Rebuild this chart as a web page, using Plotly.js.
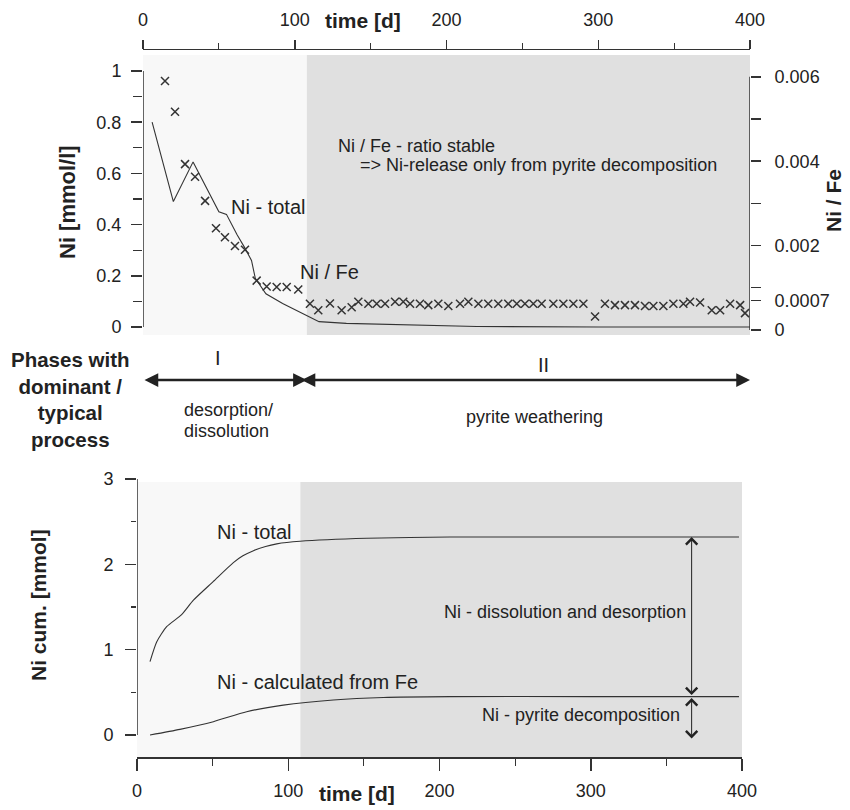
<!DOCTYPE html>
<html>
<head>
<meta charset="utf-8">
<script src="https://cdn.plot.ly/plotly-3.0.1.min.js"></script>
<style>
  html, body { margin: 0; padding: 0; background: #ffffff; }
  #chart { width: 850px; height: 810px; }
</style>
</head>
<body>
<div id="chart"></div>
<script>
// ---------------- data ----------------
// Top panel: Ni concentration in leachate [mmol/l] (left axis)
const niTotalDays = [6, 20, 33, 44, 50, 55, 62, 67, 71.5, 74, 81, 92, 105, 116, 134, 170, 220, 300, 400];
const niTotalConc = [0.80, 0.49, 0.645, 0.52, 0.45, 0.44, 0.36, 0.31, 0.26, 0.19, 0.13, 0.092, 0.053, 0.021, 0.014, 0.008, 0.002, 0.0, 0.0];

// Top panel: Ni / Fe ratio (right axis), crosses
const niFeDays = [14.5, 21.1, 27.7, 34.3, 40.9, 48.1, 54.0, 60.6, 67.2, 74.9, 81.5, 88.1, 94.7, 102.3,
  110.0, 115.5, 123.2, 130.9, 137.5, 141.9, 148.5, 154.0, 159.5, 166.1, 171.5, 176.0, 182.5, 188.0,
  194.6, 201.2, 208.9, 214.4, 221.0, 227.5, 234.1, 240.7, 246.3, 251.7, 257.2, 262.7, 270.4, 277.0,
  283.6, 290.2, 297.9, 304.4, 311.0, 317.6, 324.2, 330.8, 336.3, 342.9, 349.5, 356.1, 360.5, 367.1,
  374.8, 380.3, 386.9, 393.5, 396.7];
const niFeRatio = [0.0059, 0.00517, 0.00393, 0.00363, 0.00306, 0.00241, 0.0022, 0.00199, 0.0019, 0.00117, 0.00103, 0.00102, 0.00102, 0.00096,
  0.00062, 0.00047, 0.00063, 0.00047, 0.00054, 0.00067, 0.00062, 0.00062, 0.00062, 0.00067, 0.00067, 0.00062, 0.00062, 0.00059,
  0.00062, 0.00057, 0.00062, 0.00067, 0.00062, 0.00062, 0.00062, 0.00062, 0.00062, 0.00062, 0.00062, 0.00062, 0.00062, 0.00062,
  0.00062, 0.00062, 0.00032, 0.00062, 0.00059, 0.00059, 0.00059, 0.00057, 0.00057, 0.00057, 0.00062, 0.00062, 0.00067, 0.00065,
  0.00047, 0.00047, 0.00062, 0.00059, 0.0004];

// Bottom panel: cumulative Ni [mmol]
const cumTotalDays = [8.6, 13, 19.6, 29.5, 37.3, 50.5, 63.7, 70, 77, 85, 92.4, 107.8, 152, 207, 300, 398];
const cumTotal     = [0.86, 1.09, 1.27, 1.41, 1.58, 1.80, 2.02, 2.10, 2.16, 2.21, 2.24, 2.27, 2.305, 2.32, 2.32, 2.32];
const cumCalcDays  = [8.6, 28.4, 50.5, 72.5, 96.7, 129.8, 162.9, 207, 300, 398];
const cumCalcFe    = [0.0, 0.066, 0.156, 0.273, 0.35, 0.41, 0.44, 0.45, 0.45, 0.45];

// Phases
const phaseStart = 0, phaseBoundary = 108, phaseEnd = 400;
const phaseLabels = ['I', 'II'];
const phaseProcesses = ['desorption/', 'dissolution', 'pyrite weathering'];

// Tick labels of the right axis
const ratioTickVals = [0, 0.0007, 0.002, 0.004, 0.006];
const ratioTickText = ['0', '0.0007', '0.002', '0.004', '0.006'];

// ---------------- layout helpers (pixel -> paper) ----------------
const W = 850, H = 810;
const px = p => p / W;
const py = p => 1 - p / H;

const FONT = 'Liberation Sans, Arial, Helvetica, sans-serif';
const INK = '#222222';
const AX = '#333333';

const traces = [
  { x: niTotalDays, y: niTotalConc, xaxis: 'x', yaxis: 'y', type: 'scatter', mode: 'lines',
    line: { color: '#333', width: 1.1 }, name: 'Ni - total', hoverinfo: 'x+y' },
  { x: niFeDays, y: niFeRatio, xaxis: 'x', yaxis: 'y2', type: 'scatter', mode: 'markers',
    marker: { symbol: 'x-thin', size: 8, color: '#333', line: { color: '#333', width: 1.5 } }, name: 'Ni / Fe' },
  { x: cumTotalDays, y: cumTotal, xaxis: 'x2', yaxis: 'y3', type: 'scatter', mode: 'lines',
    line: { color: '#333', width: 1.1, shape: 'spline', smoothing: 0.6 }, name: 'Ni - total (cum.)' },
  { x: cumCalcDays, y: cumCalcFe, xaxis: 'x2', yaxis: 'y3', type: 'scatter', mode: 'lines',
    line: { color: '#333', width: 1.1, shape: 'spline', smoothing: 0.6 }, name: 'Ni - calculated from Fe' }
];

const tickFont = { family: FONT, size: 18, color: INK };

const layout = {
  width: W, height: H,
  margin: { l: 0, r: 0, t: 0, b: 0, pad: 0 },
  paper_bgcolor: '#ffffff', plot_bgcolor: 'rgba(0,0,0,0)',
  showlegend: false,
  font: { family: FONT, color: INK },
  xaxis: {
    domain: [px(143), px(750)], range: [0, 400], side: 'top', anchor: 'y',
    showline: true, linecolor: AX, linewidth: 1.5, showgrid: false, zeroline: false,
    ticks: 'outside', ticklen: 9, tickwidth: 1.5, tickcolor: AX, dtick: 100, tick0: 0,
    minor: { dtick: 50, tick0: 0, ticks: 'outside', ticklen: 6, tickwidth: 1.2, tickcolor: AX },
    tickfont: tickFont, ticklabelstandoff: 6
  },
  yaxis: {
    domain: [py(335), py(50)], range: [(327 - 335) / 256, (327 - 50) / 256], anchor: 'x',
    showline: false, showgrid: false, zeroline: false,
    ticks: 'outside', ticklen: 11, tickwidth: 1.5, tickcolor: AX, dtick: 0.2, tick0: 0,
    minor: { dtick: 0.1, tick0: 0, ticks: 'outside', ticklen: 9, tickwidth: 1.2, tickcolor: AX },
    tickfont: tickFont, ticklabelstandoff: 6
  },
  yaxis2: {
    domain: [py(335), py(50)], overlaying: 'y', side: 'right', anchor: 'x',
    range: [(330 - 335) / 42200, (330 - 50) / 42200],
    showline: false, showgrid: false, zeroline: false,
    tickmode: 'array', tickvals: ratioTickVals, ticktext: ratioTickText,
    ticks: 'outside', ticklen: 10, tickwidth: 1.5, tickcolor: AX,
    minor: { tickmode: 'array', tickvals: [0.001, 0.003, 0.005], ticks: 'outside', ticklen: 10, tickwidth: 1.2, tickcolor: AX },
    tickfont: tickFont, ticklabelstandoff: 10
  },
  xaxis2: {
    domain: [px(137), px(742)], range: [0, 400], anchor: 'y3', side: 'bottom',
    showline: true, linecolor: AX, linewidth: 1.5, showgrid: false, zeroline: false,
    ticks: 'outside', ticklen: 12, tickwidth: 1.5, tickcolor: AX, dtick: 100, tick0: 0,
    minor: { dtick: 50, tick0: 0, ticks: 'outside', ticklen: 7, tickwidth: 1.2, tickcolor: AX },
    tickfont: tickFont, ticklabelstandoff: 5
  },
  yaxis3: {
    domain: [py(757), py(476)], range: [(735 - 757) / 85.33, (735 - 476) / 85.33], anchor: 'x2',
    showline: false, showgrid: false, zeroline: false,
    ticks: 'outside', ticklen: 11, tickwidth: 1.5, tickcolor: AX, dtick: 1, tick0: 0,
    minor: { dtick: 0.5, tick0: 0, ticks: 'outside', ticklen: 5, tickwidth: 1.2, tickcolor: AX },
    tickfont: tickFont, ticklabelstandoff: 8
  },
  shapes: [
    // shaded phase II areas and faint phase I areas
    { type: 'rect', xref: 'x', yref: 'paper', x0: phaseStart, x1: phaseBoundary, y0: py(335), y1: py(55),
      fillcolor: '#f8f8f8', line: { width: 0 }, layer: 'below' },
    { type: 'rect', xref: 'x', yref: 'paper', x0: phaseBoundary, x1: phaseEnd, y0: py(335), y1: py(55),
      fillcolor: '#e0e0e0', line: { width: 0 }, layer: 'below' },
    { type: 'rect', xref: 'x2', yref: 'paper', x0: phaseStart, x1: phaseBoundary, y0: py(757), y1: py(482),
      fillcolor: '#f8f8f8', line: { width: 0 }, layer: 'below' },
    { type: 'rect', xref: 'x2', yref: 'paper', x0: phaseBoundary, x1: 402, y0: py(757), y1: py(482),
      fillcolor: '#e0e0e0', line: { width: 0 }, layer: 'below' },
    // axis spines that only span the value range
    { type: 'line', xref: 'x', yref: 'y', x0: 0, x1: 0, y0: 0, y1: 1, line: { color: AX, width: 1.5 } },
    { type: 'line', xref: 'x', yref: 'y2', x0: 400, x1: 400, y0: 0, y1: 0.006, line: { color: AX, width: 1.5 } },
    { type: 'line', xref: 'x2', yref: 'y3', x0: 0, x1: 0, y0: 0, y1: 3, line: { color: AX, width: 1.5 } }
  ],
  annotations: []
};

const A = layout.annotations;
function txt(text, x, y, size, opts) {
  A.push(Object.assign({ text: text, x: px(x), y: py(y), xref: 'paper', yref: 'paper',
    showarrow: false, font: { family: FONT, size: size, color: INK },
    xanchor: 'center', yanchor: 'middle' }, opts || {}));
}

// axis titles
txt('<b>time [d]</b>', 363, 20, 21);
txt('<b>time [d]</b>', 357, 793, 21);
txt('<b>Ni [mmol/l]</b>', 68, 202, 22, { textangle: -90 });
txt('<b>Ni / Fe</b>', 834, 201, 21, { textangle: -90 });
txt('<b>Ni cum. [mmol]</b>', 38, 605, 21, { textangle: -90 });

// top panel labels
txt('Ni / Fe - ratio stable', 336, 146, 18, { xanchor: 'left' });
txt('=> Ni-release only from pyrite decomposition', 358, 165, 18, { xanchor: 'left' });
txt('Ni - total', 268, 207, 20);
txt('Ni / Fe', 329, 272, 20);

// phases
txt('<b>Phases with<br>dominant /<br>typical<br>process</b>', 70, 399, 20.5);
txt(phaseLabels[0], 218, 358, 20);
txt(phaseLabels[1], 543, 365, 20);
txt(phaseProcesses[0], 182, 410, 18, { xanchor: 'left' });
txt(phaseProcesses[1], 182, 431, 18, { xanchor: 'left' });
txt(phaseProcesses[2], 534, 417, 18);

// bottom panel labels
txt('Ni - total', 215, 532, 20, { xanchor: 'left' });
txt('Ni - calculated from Fe', 215, 682, 20, { xanchor: 'left' });
txt('Ni - dissolution and desorption', 688, 612, 18, { xanchor: 'right' });
txt('Ni - pyrite decomposition', 682, 715, 18, { xanchor: 'right' });

// phase arrows (double headed)
A.push({ text: '', xref: 'x', yref: 'paper', x: phaseBoundary, y: py(380), axref: 'x', ax: phaseStart, ayref: 'pixel', ay: 0,
  showarrow: true, arrowside: 'end+start', arrowhead: 2, startarrowhead: 2, arrowsize: 1.1, startarrowsize: 1.1,
  arrowwidth: 2.5, arrowcolor: INK, standoff: 0, startstandoff: 0 });
A.push({ text: '', xref: 'x', yref: 'paper', x: phaseEnd, y: py(380), axref: 'x', ax: 103.5, ayref: 'pixel', ay: 0,
  showarrow: true, arrowside: 'end+start', arrowhead: 2, startarrowhead: 2, arrowsize: 1.1, startarrowsize: 1.1,
  arrowwidth: 2.5, arrowcolor: INK, standoff: 0, startstandoff: 0 });

// vertical arrows in bottom panel
const arrowDay = 366.7;
A.push({ text: '', xref: 'x2', yref: 'y3', x: arrowDay, y: cumTotal[cumTotal.length - 1], axref: 'pixel', ax: 0,
  ayref: 'y3', ay: cumCalcFe[cumCalcFe.length - 1],
  showarrow: true, arrowside: 'end+start', arrowhead: 4, startarrowhead: 4, arrowsize: 2.2, startarrowsize: 2.2,
  arrowwidth: 1, arrowcolor: INK, standoff: 0, startstandoff: 0 });
A.push({ text: '', xref: 'x2', yref: 'y3', x: arrowDay, y: -0.04, axref: 'pixel', ax: 0,
  ayref: 'y3', ay: cumCalcFe[cumCalcFe.length - 1],
  showarrow: true, arrowside: 'end+start', arrowhead: 4, startarrowhead: 4, arrowsize: 2.2, startarrowsize: 2.2,
  arrowwidth: 1, arrowcolor: INK, standoff: 0, startstandoff: 0 });

Plotly.newPlot('chart', traces, layout, { staticPlot: true, displayModeBar: false });
</script>
</body>
</html>
